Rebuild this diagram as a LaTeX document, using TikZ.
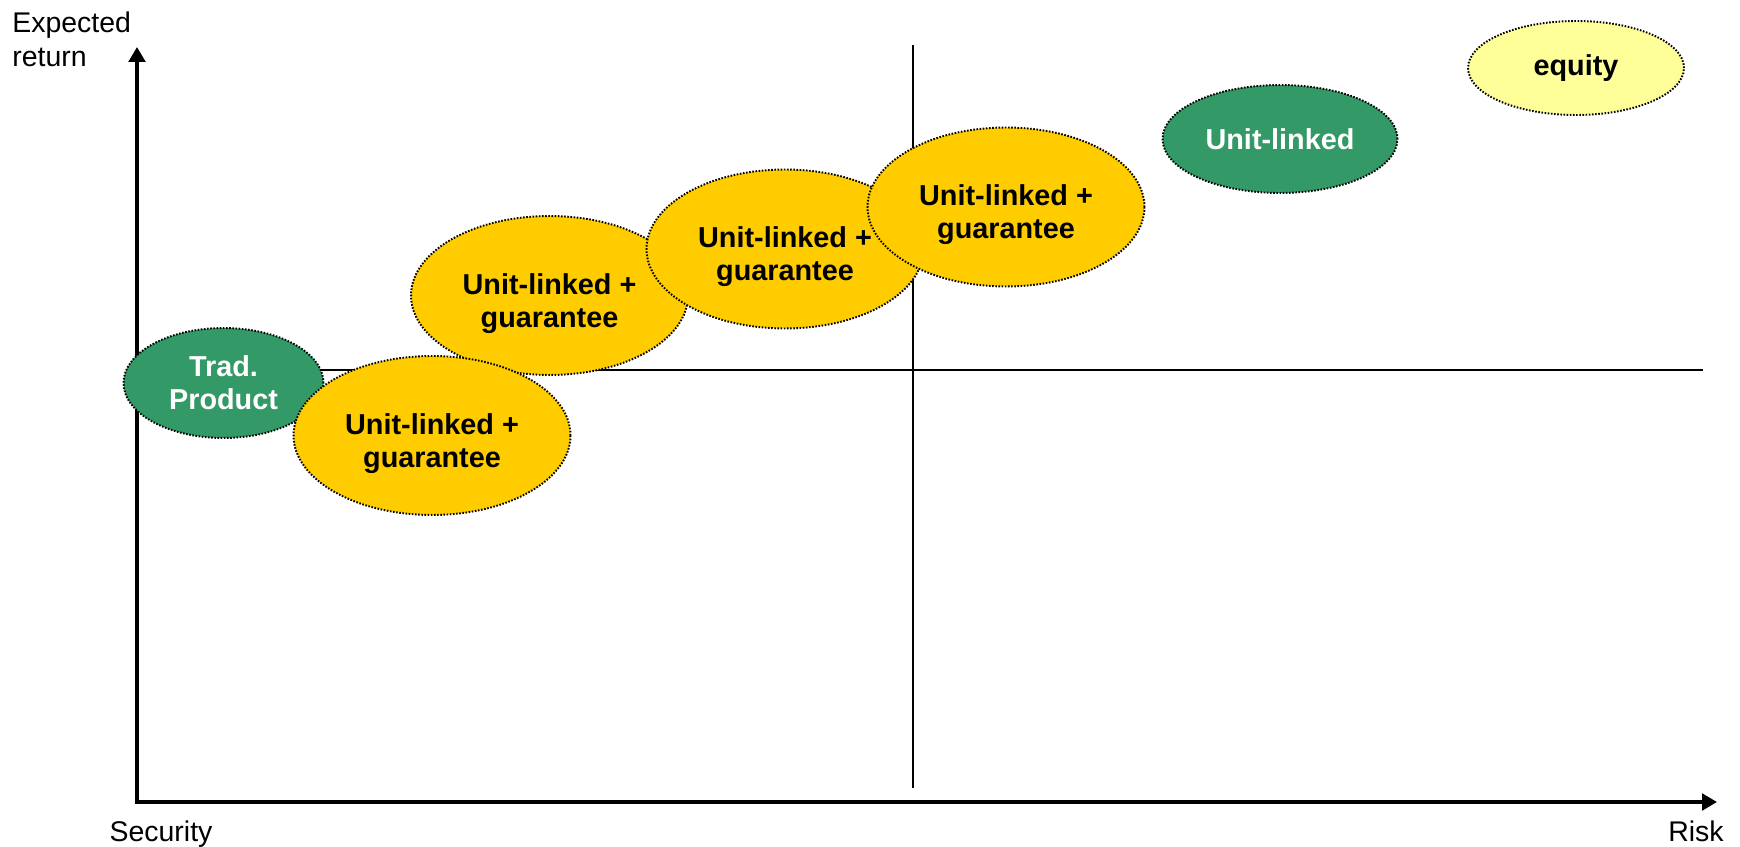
\documentclass[tikz,border=0pt]{standalone}
\usepackage{fontspec}
\setmainfont{Liberation Sans}
\usepackage{xcolor}
\definecolor{ulgreen}{RGB}{51,153,102}
\definecolor{ulgold}{RGB}{255,204,0}
\definecolor{ulyellow}{RGB}{255,255,153}
\usetikzlibrary{arrows.meta,shapes.geometric}
\tikzset{
  prod/.style={ellipse, draw=black, line width=1.1pt, dash pattern=on 0.9pt off 0.9pt,
               fill=#1, inner sep=0pt, align=center,
               font=\fontsize{16.4}{18.8}\selectfont\bfseries},
  ulg/.style={prod=ulgold, minimum width=5.54cm, minimum height=3.18cm, text height=1.4cm},
  axislbl/.style={font=\fontsize{16.2}{19.3}\selectfont, inner sep=0pt},
  axisline/.style={line width=2.3pt, {Triangle[length=3mm,width=3.3mm]}-{Triangle[length=3mm,width=3.3mm]}},
  guide/.style={line width=1.1pt},
}
\begin{document}
\begin{tikzpicture}[x=0.02cm, y=-0.02cm]
  \useasboundingbox (0,0) rectangle (1740,847);
  % Guide lines
  \coordinate (vtop) at (913,45);
  \coordinate (vbot) at (913,788);
  \coordinate (hleft) at (137,370);
  \coordinate (hright) at (1703,370);
  \draw[guide] (vtop) -- (vbot);
  \draw[guide] (hleft) -- (hright);
  % Axes
  \coordinate (ytop) at (137,47);
  \coordinate (origin) at (137,802);
  \coordinate (xend) at (1717,802);
  \draw[axisline] (ytop) -- (origin) -- (xend);
  \node[axislbl, anchor=north west, align=left] (ylbl) at (12,12) {Expected\\return};
  \node[axislbl, anchor=base] (seclbl) at (161,841) {Security};
  \node[axislbl, anchor=base] (risklbl) at (1696,841) {Risk};

  % Products
  \node[prod=ulgreen, text=white, minimum width=4cm, minimum height=2.2cm] (trad) at (223.5,383) {Trad.\\Product};
  \node[ulg] (ulg2) at (549.5,295.5) {Unit-linked +\\guarantee};
  \node[ulg] (ulg1) at (432,435.5) {Unit-linked +\\guarantee};
  \node[ulg] (ulg3) at (785,249) {Unit-linked +\\guarantee};
  \node[ulg] (ulg4) at (1006,207) {Unit-linked +\\guarantee};
  \node[prod=ulgreen, text=white, minimum width=4.7cm, minimum height=2.16cm] (ul) at (1280,139) {Unit-linked};
  \node[prod=ulyellow, minimum width=4.32cm, minimum height=1.88cm] (equity) at (1576,68) {equity};
\end{tikzpicture}
\end{document}
